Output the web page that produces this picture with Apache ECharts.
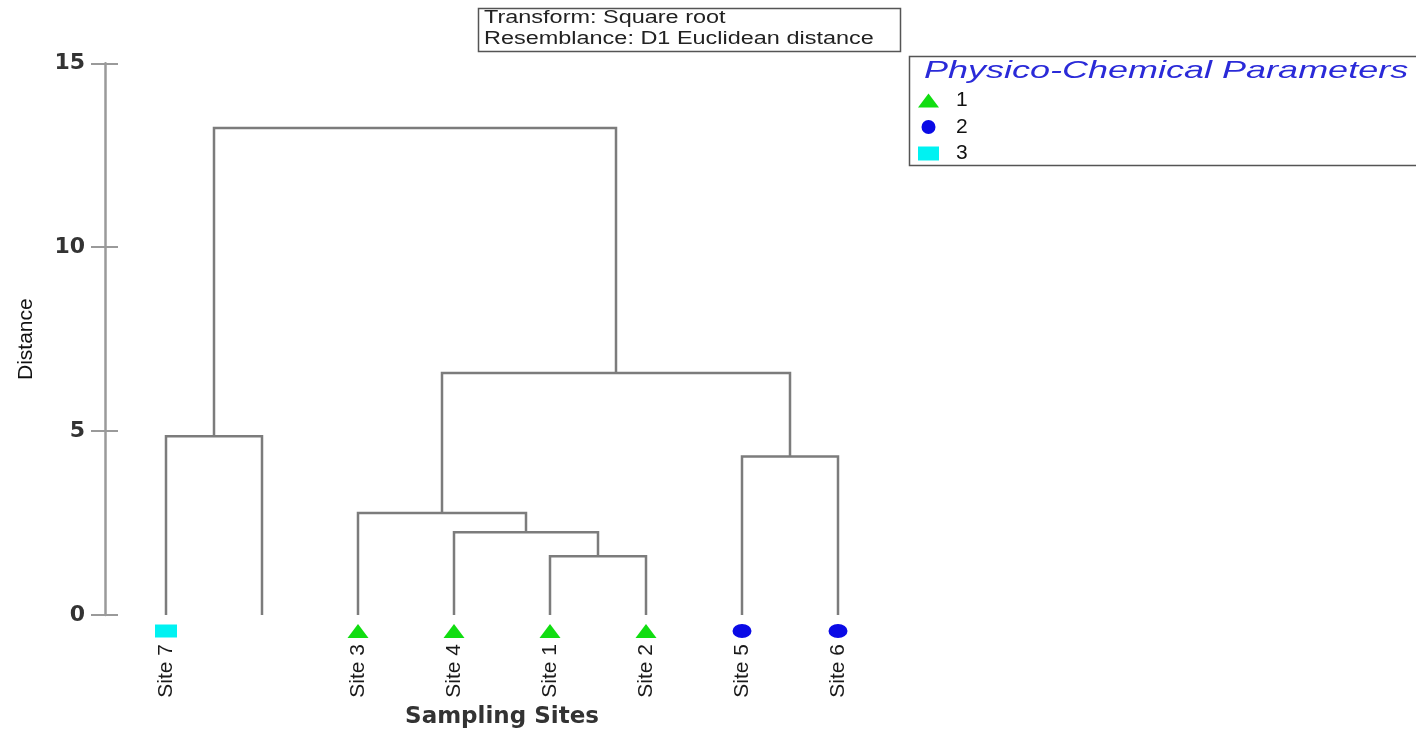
<!DOCTYPE html>
<html>
<head>
<meta charset="utf-8">
<script src="https://cdn.jsdelivr.net/npm/echarts@6/dist/echarts.min.js"></script>
<style>
html,body{margin:0;padding:0;background:#fff;}
#chart{width:1416px;height:734px;}
</style>
</head>
<body>
<div id="chart"></div>
<script>
// ---- data ----
const leafLabels = ["Site 7", "", "Site 3", "Site 4", "Site 1", "Site 2", "Site 5", "Site 6"];
const leafGroup = [3, null, 1, 1, 1, 1, 2, 2];
// merges: node ids 0..7 are leaves, 8.. are merges in order
const mergeLeft = [4, 3, 2, 6, 10, 0, 13];
const mergeRight = [5, 8, 9, 7, 11, 1, 12];
const mergeHeight = [1.60, 2.25, 2.77, 4.31, 6.58, 4.86, 13.24];
const groupNames = ["1", "2", "3"];
const yTicks = [0, 5, 10, 15];

// ---- build ----
const nodeX = leafLabels.map((_, i) => i);
const nodeH = leafLabels.map(() => 0);
const links = [];
mergeLeft.forEach((l, k) => {
  const r = mergeRight[k], h = mergeHeight[k];
  links.push([nodeX[l], nodeX[r], h, nodeH[l], nodeH[r]]);
  nodeX.push((nodeX[l] + nodeX[r]) / 2);
  nodeH.push(h);
});

const groupStyle = {
  "1": {symbol: "triangle", symbolSize: [21, 14], color: "#11dd11"},
  "2": {symbol: "circle", symbolSize: [19, 14], color: "#0a0ae6"},
  "3": {symbol: "rect", symbolSize: [22, 13], color: "#00f2f2"}
};

const scatterSeries = groupNames.map((g, gi) => ({
  name: g,
  type: "scatter",
  xAxisIndex: 0,
  yAxisIndex: 0,
  symbol: groupStyle[g].symbol,
  symbolSize: groupStyle[g].symbolSize,
  symbolOffset: [0, 16],
  itemStyle: {color: groupStyle[g].color, opacity: 1},
  clip: false,
  z: 5,
  data: leafGroup.map((grp, i) => grp === gi + 1 ? [i, 0] : null).filter(d => d)
}));

const chart = echarts.init(document.getElementById("chart"));
const font = "Liberation Sans, Arial, sans-serif";

chart.setOption({
  backgroundColor: "#fff",
  animation: false,
  grid: {left: 118, right: 530, top: 63.3, bottom: 115.7},
  legend: {
    data: groupNames,
    orient: "vertical",
    left: 918,
    top: 90,
    itemWidth: 21,
    itemHeight: 14,
    itemGap: 5.5,
    padding: 0,
    textStyle: {fontFamily: font, fontSize: 21, lineHeight: 21, color: "#111", padding: [0, 0, 0, 12]}
  },
  xAxis: [
    {
      type: "category",
      data: leafLabels,
      boundaryGap: true,
      axisLine: {show: false},
      axisTick: {show: false},
      axisLabel: {
        interval: 0, rotate: 90, margin: 29,
        fontFamily: font, fontSize: 21, color: "#1a1a1a"
      },
      name: "Sampling Sites",
      nameLocation: "middle",
      nameGap: 91,
      nameTextStyle: {fontFamily: "DejaVu Sans, sans-serif", fontSize: 23, fontWeight: "bold", color: "#333"}
    },
    {
      type: "value",
      min: -0.5,
      max: 7.5,
      show: false
    }
  ],
  yAxis: [
    {
      type: "value",
      min: 0, max: 15, interval: 5,
      offset: 13,
      axisLine: {show: true, onZero: false, lineStyle: {color: "#9a9a9a", width: 2.5}},
      axisTick: {show: true, length: 14, lineStyle: {color: "#9a9a9a", width: 2}},
      splitLine: {show: false},
      axisLabel: {margin: 20, fontFamily: "DejaVu Sans, sans-serif", fontSize: 22, fontWeight: "bold", color: "#333",
        formatter: v => yTicks.includes(v) ? String(v) : ""},
      name: "Distance",
      nameLocation: "middle",
      nameGap: 68,
      nameTextStyle: {fontFamily: font, fontSize: 21, color: "#111"}
    },
    {
      type: "value",
      min: 0, max: 15, interval: 5,
      position: "left",
      offset: 13,
      axisLine: {show: false, onZero: false},
      axisTick: {show: true, inside: true, length: 13, lineStyle: {color: "#9a9a9a", width: 2}},
      axisLabel: {show: false},
      splitLine: {show: false}
    }
  ],
  series: [
    {
      type: "custom",
      xAxisIndex: 1,
      yAxisIndex: 0,
      data: links,
      z: 3,
      renderItem: function (params, api) {
        const xl = api.value(0), xr = api.value(1), h = api.value(2), hl = api.value(3), hr = api.value(4);
        const pts = [api.coord([xl, hl]), api.coord([xl, h]), api.coord([xr, h]), api.coord([xr, hr])];
        return {
          type: "polyline",
          shape: {points: pts},
          style: {stroke: "#7c7c7c", lineWidth: 2.5, fill: null}
        };
      }
    }
  ].concat(scatterSeries),
  graphic: [
    {
      type: "rect",
      shape: {x: 478.5, y: 8.5, width: 422, height: 43},
      style: {fill: "#fff", stroke: "#555", lineWidth: 1.5},
      z: 10
    },
    {
      type: "text",
      x: 484, y: 9,
      scaleX: 1.34,
      style: {text: "Transform: Square root", fontFamily: font, fontSize: 17.5, fill: "#222"},
      z: 11
    },
    {
      type: "text",
      x: 484, y: 30,
      scaleX: 1.34,
      style: {text: "Resemblance: D1 Euclidean distance", fontFamily: font, fontSize: 17.5, fill: "#222"},
      z: 11
    },
    {
      type: "rect",
      shape: {x: 909.5, y: 56.5, width: 520, height: 109},
      style: {fill: "none", stroke: "#555", lineWidth: 1.5},
      z: 1
    },
    {
      type: "text",
      x: 924, y: 59,
      scaleX: 1.5,
      style: {text: "Physico-Chemical Parameters", fontFamily: font, fontSize: 24, fontStyle: "italic", fill: "#2a2ad8"},
      z: 11
    }
  ]
});
</script>
</body>
</html>
